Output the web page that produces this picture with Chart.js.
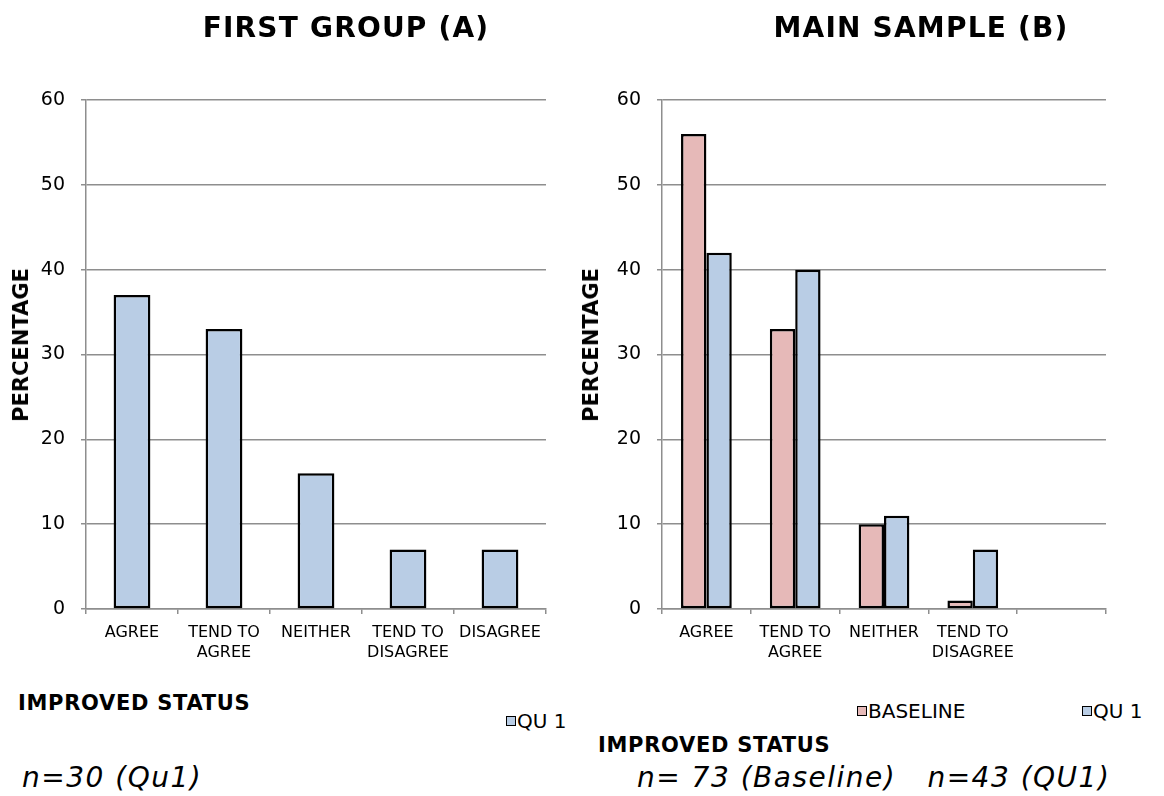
<!DOCTYPE html>
<html>
<head>
<meta charset="utf-8">
<script src="https://cdn.jsdelivr.net/npm/chart.js@4/dist/chart.umd.min.js"></script>
<style>
  html, body { margin: 0; padding: 0; background: #fff; }
  #page { position: relative; width: 1164px; height: 796px; overflow: hidden; background: #fff; }
  .cv { position: absolute; top: 0; }
  .txt { position: absolute; white-space: nowrap; color: #000; line-height: 1; }
  .title { font: bold 28px "DejaVu Sans", sans-serif; letter-spacing: 1.2px; transform: translateX(-50%); }
  .yname { font: bold 21px "DejaVu Sans", sans-serif; transform: translate(-50%, -50%) rotate(-90deg); }
  .axisname { font: bold 21px "DejaVu Sans", sans-serif; letter-spacing: 0.7px; }
  .note { font: italic 28px "DejaVu Sans", sans-serif; letter-spacing: 1.5px; }
  .legend { font: 20px "DejaVu Sans", sans-serif; display: flex; align-items: center; }
  .legend .item { display: flex; align-items: center; }
  .legend .box { width: 8px; height: 8px; border: 1px solid #000; margin-right: 1px; }
</style>
</head>
<body>
<div id="page">
  <canvas id="chartA" class="cv" style="left:0px" width="582" height="680"></canvas>
  <canvas id="chartB" class="cv" style="left:582px" width="582" height="680"></canvas>

  <div class="txt title" style="left:346px; top:11px">FIRST GROUP (A)</div>
  <div class="txt title" style="left:921px; top:11px">MAIN SAMPLE (B)</div>

  <div class="txt yname" style="left:21px; top:345px">PERCENTAGE</div>
  <div class="txt yname" style="left:591px; top:345px">PERCENTAGE</div>

  <div class="txt axisname" style="left:18px; top:691px">IMPROVED STATUS</div>
  <div class="txt axisname" style="left:598px; top:733px">IMPROVED STATUS</div>

  <div id="legendA" class="txt legend" style="left:506px; top:709px"></div>
  <div id="legendB" class="txt legend" style="left:857px; top:699px"></div>

  <div class="txt note" style="left:22px; top:761px">n=30 (Qu1)</div>
  <div class="txt note" style="left:637px; top:761px">n= 73 (Baseline)&nbsp;&nbsp; n=43 (QU1)</div>
</div>

<script>
// Response categories (multi-line labels as in the printed axis)
const categoriesA = [["AGREE"], ["TEND TO", "AGREE"], ["NEITHER"], ["TEND TO", "DISAGREE"], ["DISAGREE"]];
const categoriesB = [["AGREE"], ["TEND TO", "AGREE"], ["NEITHER"], ["TEND TO", "DISAGREE"], [""]];

// Percentages per response
const qu1A      = [37, 33, 16, 7, 7];
const baselineB = [56, 33, 10, 1, null];
const qu1B      = [42, 40, 11, 7, null];

// Value axis
const yMin = 0, yMax = 60, yStep = 10;

const seriesNames = { baseline: "BASELINE", qu1: "QU 1" };
const colors = { baseline: "#e6b9b8", qu1: "#b9cde5" };

const gridColor = "#8e8e8e";

function makeOptions(yAxisWidth, xAxisHeight, padRight) {
  return {
    responsive: false,
    animation: false,
    layout: { padding: { left: 0, right: padRight, top: 100, bottom: 0 } },
    plugins: { legend: { display: false }, tooltip: { enabled: false } },
    scales: {
      x: {
        grid: { display: true, drawOnChartArea: false, drawTicks: true, tickLength: 5, color: gridColor, lineWidth: 1.5, offset: true },
        border: { display: true, color: gridColor, width: 1.5 },
        ticks: {
          color: "#000", padding: 9, maxRotation: 0, autoSkip: false,
          font: { family: "DejaVu Sans", size: 16, lineHeight: 1.25 }
        },
        afterFit: (s) => { s.height = xAxisHeight; }
      },
      y: {
        min: yMin, max: yMax,
        grid: { color: gridColor, lineWidth: 1.5, tickLength: 5, drawTicks: true },
        border: { display: true, color: gridColor, width: 1.5 },
        ticks: {
          stepSize: yStep, color: "#000", padding: 16,
          font: { family: "DejaVu Sans", size: 19 }
        },
        afterFit: (s) => { s.width = yAxisWidth; }
      }
    }
  };
}

const barStyle = { borderColor: "#000", borderWidth: 2.5, borderSkipped: false };

new Chart(document.getElementById("chartA"), {
  type: "bar",
  data: {
    labels: categoriesA,
    datasets: [
      Object.assign({ label: seriesNames.qu1, data: qu1A, backgroundColor: colors.qu1,
        barPercentage: 0.4, categoryPercentage: 1.0 }, barStyle)
    ]
  },
  options: makeOptions(86, 71, 36)
});

new Chart(document.getElementById("chartB"), {
  type: "bar",
  data: {
    labels: categoriesB,
    datasets: [
      Object.assign({ label: seriesNames.baseline, data: baselineB, backgroundColor: colors.baseline,
        barPercentage: 1.0, categoryPercentage: 2 / 3.5 }, barStyle),
      Object.assign({ label: seriesNames.qu1, data: qu1B, backgroundColor: colors.qu1,
        barPercentage: 1.0, categoryPercentage: 2 / 3.5 }, barStyle)
    ]
  },
  options: makeOptions(80, 71, 58)
});

// Legends built from the series; items sit in fixed-width slots
function buildLegend(el, keys, slot) {
  el.innerHTML = keys.map((k, i) =>
    '<span class="item" style="' + (i < keys.length - 1 ? 'width:' + slot + 'px' : '') + '">' +
    '<span class="box" style="background:' + colors[k] + '"></span>' + seriesNames[k] + '</span>'
  ).join("");
}
buildLegend(document.getElementById("legendA"), ["qu1"], 0);
buildLegend(document.getElementById("legendB"), ["baseline", "qu1"], 225);
</script>
</body>
</html>
